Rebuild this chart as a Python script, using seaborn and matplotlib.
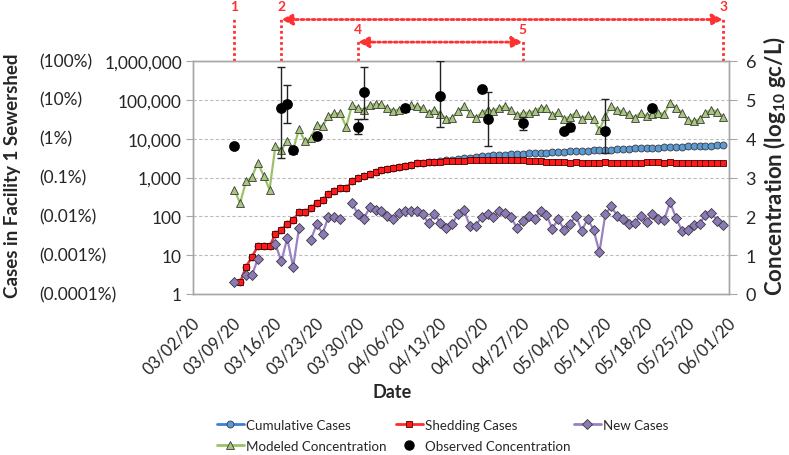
import numpy as np
import pandas as pd
import matplotlib
matplotlib.use('Agg')
import matplotlib.pyplot as plt
import matplotlib.dates as mdates
import matplotlib.ticker as mticker
from matplotlib.lines import Line2D
from matplotlib.transforms import blended_transform_factory, ScaledTranslation
import seaborn as sns

nan = np.nan

# daily case series, 03/09/20 .. 05/31/20
case_dates = pd.date_range('2020-03-09', '2020-05-31', freq='D')

cumulative_cases = [
    nan, 2, 5, 9, 17, 17, 17, 35, 45, 65, 80, 130, 130, 160, 220, 260, 370, 450, 530, 530,
    800, 950, 1100, 1250, 1400, 1550, 1650, 1800, 1900, 2000, 2100, 2300, 2400, 2450,
    2550, 2650, 2750, 2850, 2950, 3100, 3250, 3400, 3500, 3600, 3700, 3800, 3900, 4000,
    4050, 4100, 4200, 4250, 4300, 4400,
    4450, 4550, 4600, 4700, 4800, 4850, 4950, 5000, 5100, 5200, 5250, 5350, 5450, 5500,
    5600, 5650, 5750, 5850, 5900, 6000, 6100, 6150, 6250, 6350, 6400, 6500, 6550, 6650,
    6700, 6800,
]

shedding_cases = [
    nan, 2, 5, 9, 17, 17, 17, 35, 45, 65, 80, 130, 130, 160, 220, 260, 370, 450, 530, 530,
    800, 950, 1100, 1250, 1400, 1550, 1650, 1800, 1900, 2000, 2100, 2300, 2400, 2450,
    2500, 2550, 2600, 2650, 2700, 2700, 2750, 2750, 2800, 2800, 2850, 2800, 2850, 2800,
    2750, 2800,
    2700, 2650, 2600, 2550, 2500, 2500, 2450, 2400, 2450, 2400, 2400, 2350, 2400, 2450,
    2400, 2400, 2350, 2400, 2350, 2400, 2500, 2500, 2450, 2400, 2450, 2400, 2350, 2350,
    2350, 2400, 2400, 2350, 2400, 2400,
]

new_cases = [
    2, nan, 3, 3, 8, nan, nan, 19, 7, 27, 5, 50, nan, 25, 62, 36, 98, 97, 85, nan,
    220, 114, 87, 170, 148, 134, 100, 87, 121, 134, 139, 134, 114, 66,
    117, 66, 49, 64, 114, 142, 58, 58, 96, 117, 94, 134, 121, 94, 50, 74,
    104, 85, 139, 110, 48, 85, 45, 64, 104, 43, 85, 45, 12, 112, 180, 104, 87, 63,
    68, 104, 72, 114, 85, 81, 229, 91, 43, 44, 61, 64, 110, 121, 78, 61,
]

# log10 gc/L
modeled_conc = [
    2.69, 2.34, 2.90, 3.01, 3.38, 3.05, 2.69, 3.82, 3.70, 3.95, 3.72, 4.24, 3.93, 4.01,
    4.36, 4.32, 4.58, 4.65, 4.65, 4.31, 4.86, 4.80, 4.74, 4.86, 4.90, 4.88, 4.79, 4.72,
    4.75, 4.78, 4.86, 4.84, 4.79, 4.67, 4.75, 4.64, 4.51, 4.54, 4.70,
    4.84, 4.67, 4.54, 4.67, 4.75, 4.71, 4.80, 4.84, 4.75, 4.60,
    4.67, 4.67, 4.71, 4.80, 4.80, 4.60, 4.69, 4.50, 4.57, 4.67,
    4.50, 4.60, 4.50, 4.22, 4.58, 4.84, 4.74, 4.71, 4.63, 4.54,
    4.67, 4.58, 4.63, 4.67, 4.63, 4.93, 4.80, 4.67, 4.48, 4.45,
    4.50, 4.67, 4.75, 4.69, 4.57,
]

obs_dates = pd.to_datetime([
    '2020-03-09', '2020-03-17', '2020-03-18', '2020-03-19', '2020-03-23', '2020-03-30',
    '2020-03-31', '2020-04-07', '2020-04-13', '2020-04-20', '2020-04-21', '2020-04-27',
    '2020-05-04', '2020-05-05', '2020-05-11', '2020-05-19',
])
obs_conc = [3.81, 4.79, 4.90, 3.72, 4.08, 4.30, 5.21, 4.80, 5.10, 5.29, 4.50, 4.40,
            4.19, 4.30, 4.20, 4.80]
obs_low = [nan, 3.50, 4.41, nan, nan, 4.11, 4.51, nan, 4.30, nan, 3.81, 4.22,
           nan, 4.20, 3.63, nan]
obs_high = [nan, 5.85, 5.39, nan, nan, 4.50, 5.85, nan, 6.00, nan, 5.21, 4.55,
            nan, 4.38, 5.01, nan]

week_ticks = pd.date_range('2020-03-02', '2020-06-01', freq='7D')
pct_values = [1e6, 1e5, 1e4, 1e3, 1e2, 1e1, 1]
pct_labels = ['(100%)', '(10%)', '(1%)', '(0.1%)', '(0.01%)', '(0.001%)', '(0.0001%)']

# annotation markers (number, date, level)
mark_ids = ['1', '2', '3', '4', '5']
mark_dates = pd.to_datetime(['2020-03-09', '2020-03-17', '2020-05-31', '2020-03-30', '2020-04-27'])
mark_levels = [1.178, 1.178, 1.178, 1.081, 1.081]

# colours
c_blue_line, c_blue = '#3F7DD8', '#5B9BD5'
c_red_line, c_red = '#FF2B2B', '#FF1A1A'
c_purple_line, c_purple = '#9A80C4', '#8C7AB8'
c_green_line, c_green = '#9BC268', '#A8C67E'
c_edge = '#3A3A3A'
c_annot = '#FF3030'
c_axis = '#A6A6A6'

sns.set_style('white')
plt.rcParams['font.family'] = ['Lato', 'DejaVu Sans']
plt.rcParams['mathtext.fontset'] = 'custom'
plt.rcParams['mathtext.rm'] = 'Lato'
plt.rcParams['mathtext.bf'] = 'Lato:bold'

df = pd.DataFrame({'date': case_dates, 'cumulative': cumulative_cases,
                   'shedding': shedding_cases, 'new': new_cases, 'modeled': modeled_conc})
df['seg'] = df['new'].isna().cumsum()
obs = pd.DataFrame({'date': obs_dates, 'conc': obs_conc, 'low': obs_low, 'high': obs_high})

fig = plt.figure(figsize=(7.89, 4.56), dpi=100)
ax = fig.add_axes([193 / 789, 1 - 295 / 456, (729 - 193) / 789, (295 - 62) / 456])
ax.set_yscale('log')

sns.lineplot(data=df, x='date', y='cumulative', ax=ax, color=c_blue_line, lw=1.6,
             marker='o', ms=5.0, markerfacecolor=c_blue, markeredgecolor=c_edge,
             markeredgewidth=0.6, legend=False)
sns.lineplot(data=df, x='date', y='shedding', ax=ax, color=c_red_line, lw=1.6,
             marker='s', ms=5.0, markerfacecolor=c_red, markeredgecolor='#4A0000',
             markeredgewidth=0.6, legend=False)
sns.lineplot(data=df, x='date', y='new', units='seg', estimator=None, ax=ax,
             color=c_purple_line, lw=1.6, marker='D', ms=4.6, markerfacecolor=c_purple,
             markeredgecolor=c_edge, markeredgewidth=0.6, legend=False)

ax2 = ax.twinx()
sns.lineplot(data=df, x='date', y='modeled', ax=ax2, color=c_green_line, lw=1.6,
             marker='^', ms=6.4, markerfacecolor=c_green, markeredgecolor=c_edge,
             markeredgewidth=0.6, legend=False)
err = obs.dropna()
ax2.errorbar(err['date'], err['conc'],
             yerr=[err['conc'] - err['low'], err['high'] - err['conc']],
             fmt='none', ecolor='#222222', elinewidth=1, capsize=3, capthick=1, zorder=3)
sns.scatterplot(data=obs, x='date', y='conc', ax=ax2, color='black', s=60,
                edgecolor='black', linewidth=0, zorder=4, legend=False)

# axes ranges and ticks
ax.set_xlim(pd.Timestamp('2020-03-02'), pd.Timestamp('2020-06-01'))
ax.set_ylim(1, 1e6)
ax2.set_ylim(0, 6)
ax.set_xticks(week_ticks)
ax.set_yticks(pct_values)
ax.yaxis.set_minor_locator(mticker.NullLocator())
ax.yaxis.set_major_formatter(mticker.FuncFormatter(lambda v, p: f'{int(round(v)):,}'))
ax2.set_yticks(range(7))

ax.set_xlabel('')
ax.set_ylabel('')
ax2.set_xlabel('')
ax2.set_ylabel('')

ax.yaxis.grid(True, which='major', ls=(0, (3, 2)), color='#BDBDBD', lw=0.8)
ax.set_axisbelow(True)
for a in (ax, ax2):
    for s in a.spines.values():
        s.set_color(c_axis)
        s.set_linewidth(1.0)

ax.tick_params(axis='y', direction='out', length=5, color=c_axis, labelsize=12.5, pad=3)
ax.tick_params(axis='x', direction='out', length=5, color=c_axis, labelbottom=False)
ax2.tick_params(axis='y', direction='out', length=6, color=c_axis, labelsize=13, pad=6)

# rotated date labels, shifted like the original
trans_dates = blended_transform_factory(ax.transData, ax.transAxes) + \
    ScaledTranslation(4 / 100, -26 / 100, fig.dpi_scale_trans)
for d in week_ticks:
    ax.text(mdates.date2num(d), 0, d.strftime('%m/%d/%y'), transform=trans_dates,
            rotation=45, rotation_mode='anchor', ha='right', va='center',
            fontsize=12, clip_on=False)

# percent column on the left
trans_pct = blended_transform_factory(fig.transFigure, ax.transData)
for v, lbl in zip(pct_values, pct_labels):
    ax.text(39 / 789, float(v), lbl, transform=trans_pct, ha='left', va='center',
            fontsize=12.5, clip_on=False)

fig.text(13 / 789, 1 - 176 / 456, 'Cases in Facility 1 Sewershed', rotation=90,
         ha='center', va='center', fontsize=13.5, fontweight='bold')
fig.text(775 / 789, 1 - 166 / 456, r'Concentration (log$_{\mathbf{10}}$ gc/L)', rotation=90,
         ha='center', va='center', fontsize=16, fontweight='bold')
fig.text(392 / 789, 1 - 393 / 456, 'Date', ha='center', va='center',
         fontsize=13, fontweight='bold')

# red period markers above the plot
trans_mark = blended_transform_factory(ax.transData, ax.transAxes)
mark_x = mdates.date2num(mark_dates)
for mid, d, lvl in zip(mark_ids, mark_x, mark_levels):
    top = lvl + 0.012
    ax.plot([d, d], [1.0, top], transform=trans_mark, color=c_annot, lw=2,
            ls=(0, (1, 1)), clip_on=False)
    ax.text(d, top + 0.045, mid, transform=trans_mark, color=c_annot, ha='center',
            va='center', fontsize=10, fontweight='bold', clip_on=False)
for a, b, lvl in [(1, 2, 1.178), (3, 4, 1.081)]:
    ax.annotate('', xy=(mark_x[b], lvl), xytext=(mark_x[a], lvl),
                xycoords=trans_mark, textcoords=trans_mark,
                arrowprops=dict(arrowstyle='<|-|>', color=c_annot, lw=2, ls=(0, (1, 1)),
                                mutation_scale=16, shrinkA=0, shrinkB=0))

# legend: equal-width columns like the original, one entry per slot
legend_entries = [
    ('Cumulative Cases', Line2D([], [], color=c_blue_line, lw=2, marker='o', ms=5,
                                mfc=c_blue, mec=c_edge, mew=0.6), 217, 426),
    ('Shedding Cases', Line2D([], [], color=c_red_line, lw=2, marker='s', ms=5,
                              mfc=c_red, mec='#4A0000', mew=0.6), 396, 426),
    ('New Cases', Line2D([], [], color=c_purple_line, lw=2, marker='D', ms=4.6,
                         mfc=c_purple, mec=c_edge, mew=0.6), 574, 426),
    ('Modeled Concentration', Line2D([], [], color=c_green_line, lw=2, marker='^', ms=6,
                                     mfc=c_green, mec=c_edge, mew=0.6), 217, 447),
    ('Observed Concentration', Line2D([], [], ls='none', marker='o', ms=6.5,
                                      color='black'), 396, 447),
]
for text, handle, lx, ly in legend_entries:
    fig.legend([handle], [text], loc='center left', bbox_to_anchor=(lx / 789, 1 - ly / 456),
               frameon=False, fontsize=9.6, handlelength=2.0, handletextpad=0.2,
               borderaxespad=0, borderpad=0)

fig.savefig('out.png', dpi=100)
